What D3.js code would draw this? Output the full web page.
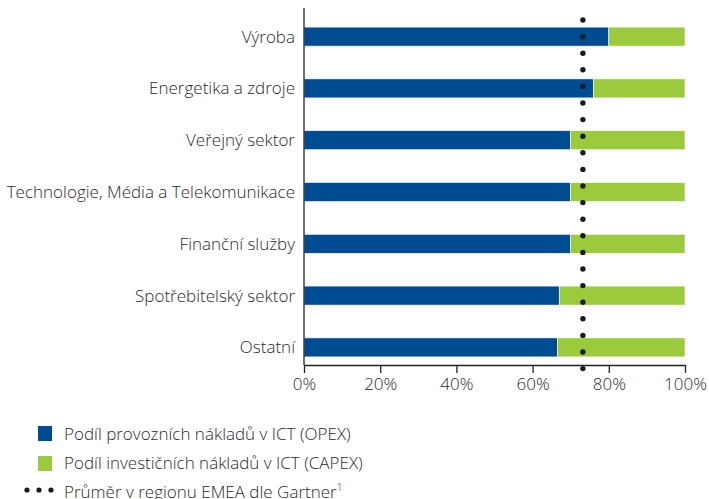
<!DOCTYPE html>
<html>
<head>
<meta charset="utf-8">
<script src="https://cdn.jsdelivr.net/npm/d3@7"></script>
<style>
  body { margin: 0; background: #fff; }
  svg text { font-family: "Open Sans", sans-serif; font-weight: 300; fill: #2b2b2b; }
</style>
</head>
<body>
<script>
const categories = ["Výroba", "Energetika a zdroje", "Veřejný sektor",
  "Technologie, Média a Telekomunikace", "Finanční služby",
  "Spotřebitelský sektor", "Ostatní"];
const opex = [80, 76, 70, 70, 70, 67, 66.5];
const capex = opex.map(v => 100 - v);
const emeaAverage = 73.2;
const xTicks = [0, 20, 40, 60, 80, 100];
const legendLabels = ["Podíl provozních nákladů v ICT (OPEX)",
  "Podíl investičních nákladů v ICT (CAPEX)",
  "Průměr v regionu EMEA dle Gartner"];

const width = 709, height = 499;
const colors = {opex: "#004c93", capex: "#9bcb3c"};

const svg = d3.select("body").append("svg")
  .attr("width", width).attr("height", height);

const x = d3.scaleLinear().domain([0, 100]).range([304, 685]);
const y = d3.scaleBand().domain(categories).range([10, 374])
  .paddingInner(0.633).paddingOuter(0.33);

const rows = svg.append("g").selectAll("g")
  .data(categories).enter().append("g");

rows.append("rect")
  .attr("x", x(0))
  .attr("y", d => y(d))
  .attr("width", (d, i) => x(opex[i]) - x(0))
  .attr("height", y.bandwidth())
  .attr("fill", colors.opex)
  .attr("stroke", "#fff").attr("stroke-width", 0.6);

rows.append("rect")
  .attr("x", (d, i) => x(opex[i]))
  .attr("y", d => y(d))
  .attr("width", (d, i) => x(opex[i] + capex[i]) - x(opex[i]))
  .attr("height", y.bandwidth())
  .attr("fill", colors.capex)
  .attr("stroke", "#fff").attr("stroke-width", 0.6);

// category labels
svg.append("g").selectAll("text")
  .data(categories).enter().append("text")
  .attr("x", 295)
  .attr("y", d => y(d) + y.bandwidth() / 2)
  .attr("dy", "0.35em")
  .attr("text-anchor", "end")
  .style("font-size", "17px")
  .text(d => d);

// y axis line
svg.append("line")
  .attr("x1", x(0)).attr("x2", x(0))
  .attr("y1", 8).attr("y2", 365)
  .attr("stroke", "#222").attr("stroke-width", 1.3);

// x axis
const xAxis = svg.append("g")
  .attr("transform", "translate(0,365)")
  .call(d3.axisBottom(x).tickValues(xTicks).tickSize(8).tickSizeOuter(0)
    .tickFormat(d => d + "%"));
xAxis.select(".domain").attr("stroke", "#222").attr("stroke-width", 1.3);
xAxis.selectAll(".tick line").attr("stroke", "#222").attr("stroke-width", 1.3);
xAxis.selectAll("text").style("font-size", "17px").attr("fill", "#2b2b2b")
  .attr("dy", "0.85em");

// EMEA average dotted line
const dotYs = d3.range(20, 382, 16.6);
svg.append("g").selectAll("circle")
  .data(dotYs).enter().append("circle")
  .attr("cx", x(emeaAverage))
  .attr("cy", d => d)
  .attr("r", 2.7)
  .attr("fill", "#1a1a1a");

// legend
const legend = svg.append("g");
[colors.opex, colors.capex].forEach((c, i) => {
  legend.append("rect")
    .attr("x", 38).attr("y", 426 + i * 30)
    .attr("width", 14).attr("height", 15)
    .attr("fill", c);
});
[27, 39, 51].forEach(cx => {
  legend.append("circle").attr("cx", cx).attr("cy", 490).attr("r", 2.6)
    .attr("fill", "#1a1a1a");
});
legendLabels.forEach((t, i) => {
  const txt = legend.append("text")
    .attr("x", 64).attr("y", 434 + i * 29)
    .attr("dy", "0.35em")
    .style("font-size", "17px")
    .text(t);
  if (i === 2) {
    txt.append("tspan").attr("baseline-shift", "super")
      .style("font-size", "10px").text("1");
  }
});
</script>
</body>
</html>
